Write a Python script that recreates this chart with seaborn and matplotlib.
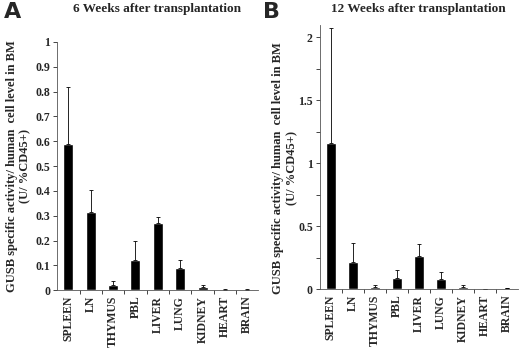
import numpy as np
import pandas as pd
import seaborn as sns
import matplotlib.pyplot as plt
from matplotlib.ticker import MultipleLocator, FixedLocator, FuncFormatter

tissues = ["SPLEEN", "LN", "THYMUS", "PBL", "LIVER", "LUNG", "KIDNEY", "HEART", "BRAIN"]

# 6 weeks: mean and upper error-bar end
wk6_mean = [0.59, 0.315, 0.022, 0.12, 0.272, 0.088, 0.013, 0.002, 0.002]
wk6_top = [0.82, 0.405, 0.037, 0.197, 0.295, 0.122, 0.019, 0.003, 0.003]

# 12 weeks
wk12_mean = [1.16, 0.212, 0.02, 0.09, 0.264, 0.082, 0.018, 0.003, 0.006]
wk12_top = [2.07, 0.363, 0.035, 0.153, 0.357, 0.135, 0.032, 0.004, 0.008]

sns.set_style("ticks")
plt.rcParams["font.family"] = ["Liberation Serif", "DejaVu Serif"]
plt.rcParams["font.weight"] = "bold"

fig = plt.figure(figsize=(5.2, 3.5), dpi=100)
ax1 = fig.add_axes([0.110, 0.171, 0.387, 0.709])
ax2 = fig.add_axes([0.615, 0.174, 0.381, 0.754])

ylab = "GUSB specific activity/ human  cell level in BM\n(U/ %CD45+)"


def fmt(v, pos):
    if abs(v - round(v)) < 1e-9:
        return str(int(round(v)))
    return f"{v:g}"


def panel(ax, mean, top, ymax):
    df = pd.DataFrame({"tissue": tissues, "value": mean})
    sns.barplot(data=df, x="tissue", y="value", color="black", width=0.45,
                saturation=1, ax=ax)
    err = np.array(top) - np.array(mean)
    ax.errorbar(np.arange(len(tissues)), mean, yerr=[np.zeros(len(err)), err],
                fmt="none", ecolor="black", elinewidth=0.6, capsize=1.5,
                capthick=0.6)
    ax.set_xlim(-0.5, len(tissues) - 0.5)
    ax.set_xlabel("")
    ax.set_ylabel(ylab, fontsize=9, fontweight="bold", labelpad=3)
    ax.tick_params(axis="x", which="major", length=0, labelsize=8.5, rotation=90, pad=4)
    ax.xaxis.set_minor_locator(FixedLocator(np.arange(0.5, len(tissues) - 0.5, 1)))
    ax.tick_params(axis="x", which="minor", length=3, width=0.6, direction="out")
    ax.tick_params(axis="y", which="both", length=3, width=0.6, labelsize=8.5, pad=2)
    ax.yaxis.set_major_formatter(FuncFormatter(fmt))
    for s in ["left", "bottom"]:
        ax.spines[s].set_linewidth(0.6)
        ax.spines[s].set_color("#555555")
    sns.despine(ax=ax)
    ax.set_ylim(0, ymax)
    return ax


panel(ax1, wk6_mean, wk6_top, 1.0)
ax1.yaxis.set_major_locator(MultipleLocator(0.1))

panel(ax2, wk12_mean, wk12_top, 2.095)
ax2.yaxis.set_major_locator(MultipleLocator(0.5))
ax2.yaxis.set_minor_locator(MultipleLocator(0.25))
ax2.yaxis.set_label_coords(-0.11, 0.46)

for ax in (ax1, ax2):
    for lab in ax.get_xticklabels() + ax.get_yticklabels():
        lab.set_fontweight("bold")

fig.text(0.302, 0.975, "6 Weeks after transplantation", ha="center", va="center",
         fontsize=9.5, fontweight="bold")
fig.text(0.805, 0.975, "12 Weeks after transplantation", ha="center", va="center",
         fontsize=9.5, fontweight="bold")
fig.text(0.008, 0.965, "A", ha="left", va="center", fontsize=16, fontweight="bold",
         family="DejaVu Sans")
fig.text(0.505, 0.965, "B", ha="left", va="center", fontsize=16, fontweight="bold",
         family="DejaVu Sans")

fig.savefig("out.png", dpi=100)
